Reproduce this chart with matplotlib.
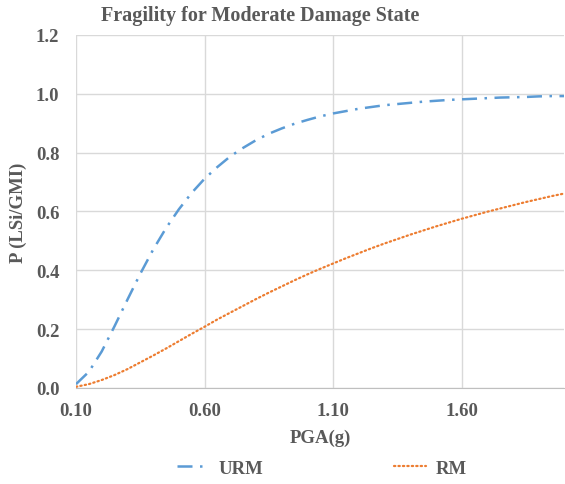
import matplotlib
matplotlib.use("Agg")
from matplotlib import pyplot as plt

# PGA values (g) and probability of exceeding moderate damage
pga = [0.10, 0.15, 0.20, 0.25, 0.30, 0.35, 0.40, 0.45, 0.50, 0.55,
       0.60, 0.65, 0.70, 0.75, 0.80, 0.85, 0.90, 0.95, 1.00, 1.05,
       1.10, 1.15, 1.20, 1.25, 1.30, 1.35, 1.40, 1.45, 1.50, 1.55,
       1.60, 1.65, 1.70, 1.75, 1.80, 1.85, 1.90, 1.95, 2.00]
urm = [0.013, 0.055, 0.124, 0.210, 0.300, 0.388, 0.470, 0.543, 0.607, 0.663,
       0.711, 0.751, 0.787, 0.816, 0.842, 0.864, 0.882, 0.898, 0.911, 0.923,
       0.933, 0.941, 0.949, 0.955, 0.961, 0.965, 0.969, 0.973, 0.976, 0.979,
       0.981, 0.983, 0.985, 0.987, 0.988, 0.989, 0.991, 0.992, 0.992]
rm = [0.004, 0.013, 0.027, 0.044, 0.064, 0.087, 0.110, 0.134, 0.159, 0.184,
      0.208, 0.233, 0.256, 0.279, 0.302, 0.324, 0.345, 0.366, 0.386, 0.405,
      0.423, 0.441, 0.458, 0.475, 0.491, 0.506, 0.521, 0.535, 0.549, 0.562,
      0.575, 0.587, 0.599, 0.610, 0.621, 0.632, 0.642, 0.652, 0.661]
xticks = [0.10, 0.60, 1.10, 1.60]
yticks = [0.0, 0.2, 0.4, 0.6, 0.8, 1.0, 1.2]

txt = '#595959'
font = 'Liberation Serif'
fs = 13.5

fig = plt.figure(figsize=(5.65, 4.85), dpi=100)
ax = fig.add_axes([0.1345, 0.198, 0.8645, 0.728])

ax.plot(pga, urm, color='#5B9BD5', lw=1.8, dashes=[6, 3, 1, 3], label='URM')
ax.plot(pga, rm, color='#ED7D31', lw=1.6, dashes=[0.6, 1.4],
        dash_capstyle='round', label='RM')

ax.set_xlim(0.10, 2.00)
ax.set_ylim(0, 1.2)
ax.set_xticks(xticks)
ax.set_xticklabels(['%.2f' % t for t in xticks])
ax.set_yticks(yticks)
ax.set_yticklabels(['%.1f' % t for t in yticks])
ax.grid(True, color='#d9d9d9', lw=1)
ax.set_axisbelow(True)
for s in ['top', 'right', 'left']:
    ax.spines[s].set_visible(False)
ax.spines['bottom'].set_color('#bfbfbf')
ax.tick_params(length=0, labelsize=fs, labelcolor=txt, pad=10)
ax.tick_params(axis='y', pad=12)
for lab in ax.get_xticklabels() + ax.get_yticklabels():
    lab.set_fontfamily(font)
    lab.set_fontweight('bold')

fig.text(260 / 565, 1 - 16 / 485, 'Fragility for Moderate Damage State',
         fontsize=14.5, fontweight='bold', color=txt, family=font,
         ha='center', va='center')
ax.set_xlabel('PGA(g)', fontsize=fs, fontweight='bold', color=txt,
              family=font, labelpad=7)
ax.set_ylabel('P (LSi/GMI)', fontsize=fs, fontweight='bold', color=txt,
              family=font, labelpad=6)

fig.legend(loc='center', bbox_to_anchor=(322 / 565, 1 - 469 / 485), ncol=2,
           frameon=False, handlelength=1.7, handletextpad=0.5,
           columnspacing=7,
           prop={'family': font, 'weight': 'bold', 'size': fs},
           labelcolor=txt)

fig.savefig('out.png', dpi=100)
